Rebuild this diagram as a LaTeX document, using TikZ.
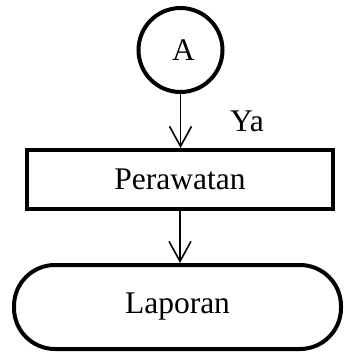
\documentclass[tikz,border=0pt]{standalone}
\usepackage{fontspec}
\setmainfont{Liberation Serif}
\usetikzlibrary{arrows.meta}
\begin{document}
\begin{tikzpicture}[x=1pt,y=-1pt,
  every node/.style={font=\fontsize{31.5}{37}\selectfont, inner sep=0pt},
  shapeline/.style={draw=black, line width=4pt, fill=white},
  conn/.style={draw=black, line width=1.6pt, -{Straight Barb[length=20pt,width=22pt,line width=1.6pt]}}
]
\useasboundingbox (0,0) rectangle (343,353);
\node[shapeline, circle, minimum size=84pt] (a) at (180.5,50) {\hspace{6pt}\raisebox{-3pt}{A}};
\node[shapeline, rectangle, minimum width=306pt, minimum height=59pt] (p) at (180,179.5) {Perawatan};
\node[shapeline, rectangle, rounded corners=41pt, minimum width=327pt, minimum height=84pt] (l) at (177.5,307) {Laporan};
\node (ya) at (247,121) {Ya};
\draw[conn] (a.south) -- (p.north -| a.south);
\draw[conn] (p.south) -- (l.north -| p.south);
\end{tikzpicture}
\end{document}
